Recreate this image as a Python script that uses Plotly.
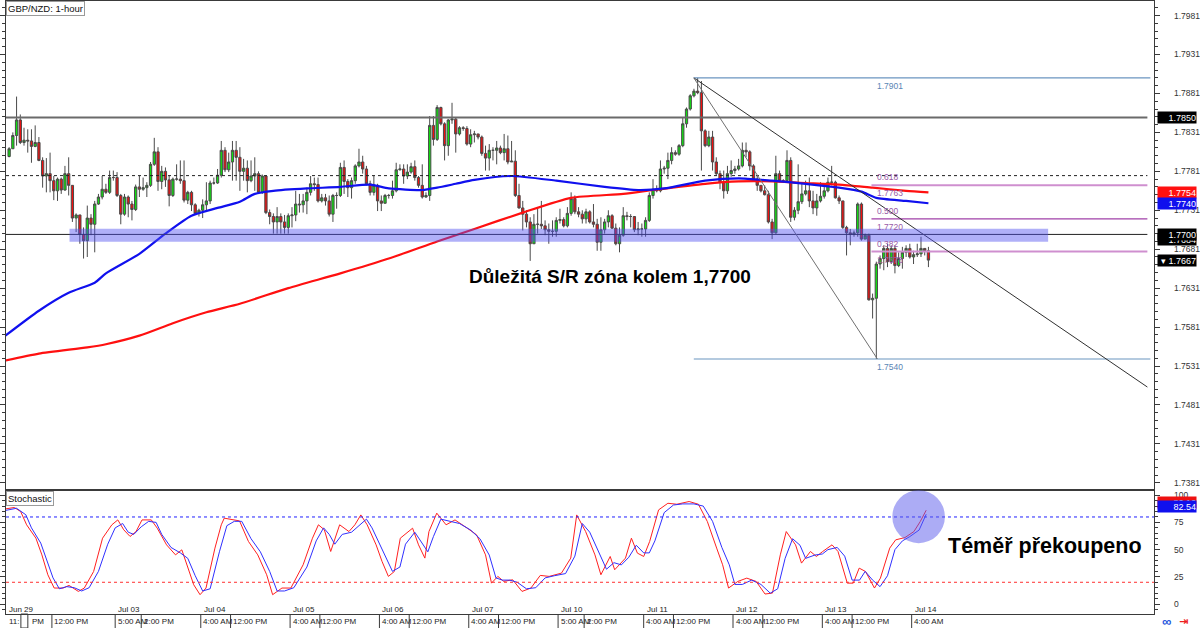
import plotly.graph_objects as go

# ---------------- DATA ----------------
first_open = 1.7800
close = [1.7810,1.7827,1.7847,1.7818,1.7821,1.7820,1.7813,1.7818,1.7795,1.7775,
         1.7778,1.7769,1.7756,1.7771,1.7757,1.7778,1.7763,1.7721,1.7725,1.7700,
         1.7692,1.7721,1.7713,1.7739,1.7748,1.7758,1.7754,1.7773,1.7773,1.7750,
         1.7726,1.7748,1.7739,1.7732,1.7761,1.7758,1.7760,1.7763,1.7790,1.7806,
         1.7768,1.7781,1.7770,1.7750,1.7771,1.7771,1.7769,1.7744,1.7754,1.7738,
         1.7727,1.7731,1.7738,1.7743,1.7766,1.7766,1.7776,1.7808,1.7783,1.7793,
         1.7808,1.7799,1.7781,1.7785,1.7769,1.7775,1.7778,1.7754,1.7775,1.7728,
         1.7723,1.7716,1.7723,1.7716,1.7709,1.7724,1.7725,1.7739,1.7738,1.7743,
         1.7754,1.7765,1.7764,1.7743,1.7747,1.7743,1.7726,1.7750,1.7750,1.7786,
         1.7768,1.7760,1.7769,1.7788,1.7793,1.7784,1.7765,1.7754,1.7763,1.7743,
         1.7740,1.7750,1.7750,1.7756,1.7783,1.7784,1.7775,1.7780,1.7787,1.7773,
         1.7763,1.7748,1.7750,1.7840,1.7822,1.7863,1.7842,1.7814,1.7847,1.7848,
         1.7829,1.7837,1.7836,1.7816,1.7828,1.7829,1.7825,1.7804,1.7798,1.7808,
         1.7808,1.7811,1.7805,1.7810,1.7793,1.7794,1.7750,1.7734,1.7726,1.7716,
         1.7688,1.7713,1.7713,1.7711,1.7706,1.7704,1.7704,1.7718,1.7719,1.7711,
         1.7727,1.7746,1.7729,1.7726,1.7720,1.7729,1.7716,1.7713,1.7690,1.7706,
         1.7716,1.7724,1.7708,1.7688,1.7699,1.7724,1.7723,1.7723,1.7706,1.7707,
         1.7707,1.7718,1.7750,1.7758,1.7756,1.7784,1.7785,1.7795,1.7805,1.7803,
         1.7814,1.7842,1.7861,1.7878,1.7884,1.7882,1.7833,1.7814,1.7825,1.7793,
         1.7778,1.7767,1.7756,1.7778,1.7782,1.7784,1.7788,1.7808,1.7806,1.7788,
         1.7771,1.7763,1.7756,1.7751,1.7716,1.7702,1.7778,1.7769,1.7769,1.7795,
         1.7722,1.7731,1.7742,1.7752,1.7756,1.7743,1.7734,1.7743,1.7749,1.7756,
         1.7767,1.7767,1.7747,1.7743,1.7709,1.7702,1.7700,1.7702,1.7739,1.7694,
         1.7699,1.7616,1.7618,1.7662,1.7669,1.7682,1.7665,1.7682,1.7660,1.7669,
         1.7677,1.7682,1.7671,1.7674,1.7675,1.7682,1.7679,1.7667]
high = [1.7812,1.7831,1.7877,1.7854,1.7837,1.7835,1.7835,1.7840,1.7825,1.7799,
        1.7798,1.7805,1.7775,1.7773,1.7773,1.7788,1.7799,1.7763,1.7727,1.7725,
        1.7709,1.7737,1.7726,1.7743,1.7752,1.7775,1.7765,1.7782,1.7782,1.7780,
        1.7752,1.7752,1.7750,1.7743,1.7764,1.7775,1.7773,1.7767,1.7793,1.7824,
        1.7812,1.7788,1.7786,1.7775,1.7773,1.7790,1.7795,1.7795,1.7756,1.7756,
        1.7740,1.7733,1.7745,1.7767,1.7769,1.7773,1.7784,1.7820,1.7812,1.7805,
        1.7820,1.7820,1.7812,1.7797,1.7795,1.7795,1.7799,1.7781,1.7777,1.7775,
        1.7732,1.7727,1.7735,1.7727,1.7725,1.7727,1.7735,1.7756,1.7752,1.7752,
        1.7760,1.7775,1.7773,1.7773,1.7752,1.7752,1.7750,1.7752,1.7754,1.7792,
        1.7795,1.7771,1.7773,1.7790,1.7810,1.7801,1.7788,1.7769,1.7775,1.7765,
        1.7750,1.7752,1.7752,1.7769,1.7792,1.7790,1.7790,1.7790,1.7792,1.7795,
        1.7775,1.7790,1.7754,1.7852,1.7852,1.7866,1.7864,1.7844,1.7848,1.7869,
        1.7850,1.7839,1.7839,1.7839,1.7835,1.7833,1.7829,1.7827,1.7814,1.7816,
        1.7812,1.7820,1.7814,1.7829,1.7827,1.7820,1.7808,1.7765,1.7743,1.7731,
        1.7722,1.7726,1.7735,1.7743,1.7718,1.7714,1.7718,1.7722,1.7733,1.7722,
        1.7735,1.7754,1.7750,1.7735,1.7731,1.7733,1.7731,1.7739,1.7720,1.7722,
        1.7720,1.7731,1.7726,1.7714,1.7709,1.7735,1.7729,1.7726,1.7722,1.7716,
        1.7714,1.7722,1.7754,1.7771,1.7763,1.7795,1.7788,1.7805,1.7812,1.7808,
        1.7816,1.7850,1.7863,1.7880,1.7887,1.7901,1.7897,1.7835,1.7833,1.7833,
        1.7799,1.7782,1.7782,1.7788,1.7795,1.7788,1.7797,1.7818,1.7818,1.7808,
        1.7790,1.7775,1.7763,1.7763,1.7756,1.7720,1.7801,1.7782,1.7771,1.7808,
        1.7799,1.7735,1.7790,1.7767,1.7769,1.7773,1.7756,1.7752,1.7767,1.7765,
        1.7773,1.7788,1.7769,1.7750,1.7743,1.7711,1.7707,1.7705,1.7741,1.7741,
        1.7701,1.7701,1.7624,1.7665,1.7673,1.7686,1.7688,1.7686,1.7686,1.7677,
        1.7684,1.7686,1.7688,1.7679,1.7688,1.7697,1.7682,1.7684]
low = [1.7799,1.7810,1.7814,1.7816,1.7814,1.7805,1.7792,1.7812,1.7794,1.7760,
       1.7754,1.7754,1.7744,1.7743,1.7752,1.7756,1.7750,1.7716,1.7703,1.7688,
       1.7669,1.7671,1.7699,1.7677,1.7738,1.7745,1.7752,1.7752,1.7769,1.7748,
       1.7713,1.7724,1.7722,1.7718,1.7730,1.7748,1.7756,1.7748,1.7761,1.7788,
       1.7756,1.7758,1.7761,1.7736,1.7748,1.7769,1.7765,1.7741,1.7739,1.7730,
       1.7725,1.7723,1.7721,1.7730,1.7739,1.7764,1.7765,1.7773,1.7780,1.7780,
       1.7769,1.7769,1.7756,1.7769,1.7754,1.7767,1.7756,1.7752,1.7752,1.7726,
       1.7713,1.7701,1.7701,1.7701,1.7701,1.7701,1.7709,1.7717,1.7728,1.7728,
       1.7726,1.7750,1.7756,1.7741,1.7741,1.7737,1.7723,1.7716,1.7733,1.7748,
       1.7752,1.7748,1.7746,1.7765,1.7786,1.7778,1.7763,1.7750,1.7750,1.7730,
       1.7730,1.7741,1.7746,1.7746,1.7754,1.7782,1.7765,1.7771,1.7778,1.7769,
       1.7760,1.7746,1.7747,1.7743,1.7814,1.7820,1.7840,1.7795,1.7801,1.7842,
       1.7805,1.7827,1.7833,1.7814,1.7812,1.7818,1.7822,1.7801,1.7782,1.7782,
       1.7795,1.7790,1.7803,1.7795,1.7790,1.7793,1.7748,1.7733,1.7705,1.7709,
       1.7666,1.7688,1.7701,1.7707,1.7699,1.7688,1.7697,1.7697,1.7714,1.7709,
       1.7709,1.7724,1.7726,1.7722,1.7714,1.7714,1.7714,1.7709,1.7679,1.7679,
       1.7701,1.7709,1.7707,1.7686,1.7677,1.7697,1.7718,1.7709,1.7703,1.7699,
       1.7697,1.7697,1.7716,1.7746,1.7754,1.7754,1.7778,1.7771,1.7790,1.7801,
       1.7801,1.7812,1.7837,1.7859,1.7876,1.7880,1.7782,1.7812,1.7812,1.7782,
       1.7776,1.7758,1.7746,1.7752,1.7774,1.7778,1.7782,1.7786,1.7799,1.7782,
       1.7769,1.7756,1.7754,1.7750,1.7714,1.7694,1.7701,1.7767,1.7767,1.7767,
       1.7716,1.7718,1.7726,1.7739,1.7750,1.7735,1.7726,1.7724,1.7741,1.7746,
       1.7754,1.7763,1.7746,1.7739,1.7707,1.7673,1.7686,1.7697,1.7697,1.7692,
       1.7694,1.7615,1.7592,1.7540,1.7656,1.7654,1.7658,1.7662,1.7650,1.7658,
       1.7656,1.7671,1.7669,1.7662,1.7671,1.7671,1.7673,1.7658]
bars = list(range(1, len(close) + 1))
opens = [first_open] + close[:-1]

ma100_bar = [0, 9, 17, 24, 27, 36, 43, 50, 57, 63, 67, 72, 81, 90, 98, 103, 112, 116, 121,
             126, 136, 148, 161, 170, 177, 188, 197, 206, 215, 224, 230, 234, 242, 248]
ma100_val = [1.7570, 1.7602, 1.7625, 1.7638, 1.7650, 1.7675, 1.7701, 1.7724, 1.7734, 1.7742,
             1.7752, 1.7756, 1.7759, 1.7761, 1.7764, 1.7759, 1.7757, 1.7760, 1.7765,
             1.7770, 1.7775, 1.7769, 1.7761, 1.7757, 1.7759, 1.7769, 1.7772, 1.7769, 1.7765,
             1.7760, 1.7755, 1.7747, 1.7743, 1.7740]
ma200_bar = [0, 9, 22, 27, 36, 45, 54, 63, 76, 90, 103, 116, 126, 139, 152, 166, 174, 188,
             197, 206, 215, 224, 233, 242, 248]
ma200_val = [1.7538, 1.7547, 1.7555, 1.7559, 1.7570, 1.7586, 1.7600, 1.7611, 1.7631, 1.7650,
             1.7669, 1.7691, 1.7707, 1.7728, 1.7747, 1.7752, 1.7757, 1.7765, 1.7768, 1.7768,
             1.7766, 1.7764, 1.7760, 1.7756, 1.7754]

stoch_k_bar = [0, 2.4, 4.1, 5.7, 8.2, 9.8, 11.4, 13.1, 15.5, 17.1, 19.6, 21.2, 23.7, 26.1, 28.6,
               30.2, 31.8, 33.5, 35.1, 36.7, 39.2, 40.8, 43.3, 45.7, 47.4, 49.0, 50.6, 52.3,
               53.9, 56.3, 58.0, 58.8, 61.2, 62.9, 65.3, 67.8, 70.2, 71.8, 74.3, 76.7, 80.0,
               82.5, 84.1, 85.7, 87.4, 89.8, 92.3, 93.9, 95.5, 97.2, 99.6, 101.2, 102.9, 104.5,
               106.1, 109.4, 111.0, 112.7, 113.8, 115.9, 118.4, 120.8, 124.1, 126.6, 129.0,
               130.6, 132.3, 133.9, 136.3, 138.8, 141.2, 143.7, 146.1, 149.4, 151.9, 153.5,
               155.9, 158.4, 160.0, 162.5, 163.7, 166.6, 168.2, 169.8, 171.5, 173.1, 175.5,
               178.0, 180.4, 183.7, 186.2, 188.6, 191.1, 192.7, 194.3, 196.8, 199.2, 201.7,
               204.1, 206.1, 208.2, 209.8, 212.3, 213.9, 216.3, 217.9, 219.6, 222.1, 223.7,
               226.2, 227.8, 229.4, 231.1, 233.5, 235.1, 237.6, 239.2, 241.7, 244.1, 245.8, 247.4]
stoch_k_val = [87.4, 88.7, 85.0, 72.8, 60.5, 45.2, 26.9, 14.7, 14.7, 17.1, 11.6, 14.7, 29.9, 60.5,
               72.8, 77.3, 68.2, 62.1, 66.6, 77.3, 77.3, 69.7, 54.4, 45.2, 49.8, 33.0, 17.7, 8.6,
               14.7, 51.4, 72.8, 78.9, 77.3, 76.4, 57.5, 45.2, 26.9, 8.6, 14.7, 14.7, 36.1,
               60.5, 72.8, 68.2, 48.3, 72.8, 66.6, 72.8, 81.9, 72.8, 54.4, 39.1, 25.4, 29.9,
               60.5, 69.7, 54.4, 42.2, 66.6, 83.5, 72.8, 77.3, 69.7, 63.6, 45.2,
               19.2, 25.4, 20.8, 22.3, 11.6, 14.7, 26.3, 25.4, 28.4, 42.2, 81.9,
               66.6, 45.2, 26.9, 43.7, 31.5, 42.2, 60.5, 46.8, 43.7, 57.5, 86.5,
               92.6, 91.7, 94.2, 91.7, 75.8, 51.4, 36.1, 14.7, 20.8, 23.8, 20.8,
               9.2, 10.1, 45.2, 66.6, 54.4, 37.6, 48.3, 43.7, 48.3, 54.4, 48.3,
               19.2, 19.2, 33.0, 29.9, 14.7, 23.8, 51.4, 59.0, 61.1, 66.6, 75.8, 86.2]
stoch_d_bar = [0, 3, 5.5, 7, 9.5, 11, 12.8, 14.5, 16.5, 18.5, 20.5, 22.5, 25, 27.5, 29.5, 31.5,
               33, 34.5, 36.5, 38.5, 40.5, 42, 44.5, 47, 49, 51, 53, 55, 57.5, 59.5, 61.5, 63.5,
               66, 68.5, 71, 73, 75, 77.5, 81, 83.5, 85.5, 87, 88.5, 90.5, 93, 95, 97, 98.5,
               100.5, 102.5, 104, 106, 107.5, 110, 112, 113.5, 115, 117, 119.5, 122, 125,
               127.5, 130, 131.8, 133.5, 135.5, 137.5, 140, 142.5, 145, 147.5, 150.5, 153,
               155, 157, 159.5, 161.5, 163.5, 165.5, 167.5, 169.5, 171.5, 173, 174.5, 177,
               179.5, 182, 185, 187.5, 190, 192.5, 194.5, 196, 198, 200.5, 203, 205.5, 207.5,
               209.5, 211.5, 213.5, 215, 217.5, 219.5, 221, 223.5, 225.5, 227.5, 229.5, 231,
               233, 235, 237, 239, 241, 243, 245.5, 247.4]
stoch_d_val = [86, 88, 82, 70, 56, 42, 24, 14, 16, 15, 12, 15, 30, 55, 70, 74,
               66, 64, 71, 76, 75, 64, 52, 47, 42, 26, 12, 14, 48, 72, 76, 76,
               60, 48, 30, 12, 12, 15, 34, 58, 70, 64, 55, 64, 66, 72, 78, 70,
               55, 40, 30, 34, 55, 66, 56, 48, 62, 78, 76, 74, 68,
               60, 45, 24, 22, 22, 20, 14, 15, 24, 26, 28, 44,
               74, 66, 48, 32, 38, 36, 43, 54, 47, 47, 58, 84,
               91, 92, 92, 90, 76, 52, 36, 18, 18, 22, 18, 10, 14,
               42, 60, 54, 42, 45, 46, 50, 52, 44, 22, 22, 30,
               22, 16, 26, 50, 58, 62, 68, 82.5]

price_tick_labels = ["1.7981", "1.7931", "1.7881", "1.7831", "1.7781", "1.7731", "1.7681",
                     "1.7631", "1.7581", "1.7531", "1.7481", "1.7431", "1.7381"]
stoch_tick_labels = ["100", "75", "50", "25", "0"]
date_bars = [0, 30, 53, 77, 101, 125, 149, 172, 196, 220, 244]
date_labels = ["Jun 29", "Jul 03", "Jul 04", "Jul 05", "Jul 06", "Jul 07", "Jul 10",
               "Jul 11", "Jul 12", "Jul 13", "Jul 14"]
time_bars = [13, 30, 37, 53, 61, 77, 85, 101, 109, 125, 133, 149, 156, 172, 180, 196,
             204, 220, 228, 244]
time_labels = ["12:00 PM", "5:00 AM", "2:00 PM", "4:00 AM", "12:00 PM", "4:00 AM", "12:00 PM",
               "4:00 AM", "12:00 PM", "4:00 AM", "12:00 PM", "5:00 AM", "2:00 PM", "4:00 AM",
               "12:00 PM", "4:00 AM", "12:00 PM", "4:00 AM", "12:00 PM", "4:00 AM"]

level_850 = 1.7850
level_sr = 1.7700
level_dotted = 1.77755
zone_low, zone_high = 1.76907, 1.77074
swing_high, swing_low = 1.7901, 1.7540
fib_levels = [1.7763, 1.7720, 1.7678]
fib_ratio_labels = ["0.618", "0.500", "0.382"]
fib_price_labels = ["1.7763", "1.7720", "1.7678"]
trend_end_price = 1.7504
stoch_levels = [80, 20]

last_price = 1.7667
hidden_price = 1.7684
ma200_last, ma100_last = 1.7754, 1.7740
stoch_k_last, stoch_d_last = 86.16, 82.54

# ---------------- GEOMETRY ----------------
W, H = 1200, 628
PLOT_R = 1157
MAIN_BOTTOM, STOCH_BOTTOM = 490, 614
PXB = 3.75  # pixels per bar
PX_PER_PRICE = 7800
PX_PER_STOCH = 1.09


def bar_of_px(px):
    return (px + 0.6) / PXB


def px_of_bar_left(b):
    return PXB * b - 2.5


def xp(px):
    return px / W


def yp(py):
    return (H - py) / H


FONT_AX = "Liberation Sans, Arial, sans-serif"
FONT_TXT = "Liberation Sans, Arial, sans-serif"
AX_SIZE = 8.5

fig = go.Figure()

fig.add_trace(go.Candlestick(
    x=bars, open=opens, high=high, low=low, close=close,
    increasing=dict(fillcolor="#10e010", line=dict(color="#4a4a4a", width=1)),
    decreasing=dict(fillcolor="#ee1010", line=dict(color="#4a4a4a", width=1)),
    whiskerwidth=0, hoverinfo="skip", xaxis="x", yaxis="y", showlegend=False))

fig.add_trace(go.Scatter(x=ma200_bar, y=ma200_val, mode="lines",
                         line=dict(color="#ff1010", width=2.2, shape="spline", smoothing=0.6),
                         xaxis="x", yaxis="y", hoverinfo="skip", showlegend=False))
fig.add_trace(go.Scatter(x=ma100_bar, y=ma100_val, mode="lines",
                         line=dict(color="#1010ee", width=2.2, shape="spline", smoothing=0.6),
                         xaxis="x", yaxis="y", hoverinfo="skip", showlegend=False))

fig.add_trace(go.Scatter(x=stoch_k_bar, y=stoch_k_val, mode="lines",
                         line=dict(color="#ff2020", width=1), xaxis="x2", yaxis="y2",
                         hoverinfo="skip", showlegend=False))
fig.add_trace(go.Scatter(x=stoch_d_bar, y=stoch_d_val, mode="lines",
                         line=dict(color="#3030ff", width=1), xaxis="x2", yaxis="y2",
                         hoverinfo="skip", showlegend=False))

x_lo, x_hi = bar_of_px(0), bar_of_px(PLOT_R)
y_lo = swing_high - (MAIN_BOTTOM - 77) / PX_PER_PRICE
y_hi = swing_high + 77 / PX_PER_PRICE
s_hi = (604 - 490) / PX_PER_STOCH
s_lo = (604 - STOCH_BOTTOM) / PX_PER_STOCH

ax_common = dict(showgrid=False, zeroline=False, linecolor="#3a3a3a", linewidth=1)

fig.update_layout(
    width=W, height=H, margin=dict(l=0, r=0, t=0, b=0),
    paper_bgcolor="white", plot_bgcolor="white", boxgap=0.12,
    xaxis=dict(domain=[0, PLOT_R / W], range=[x_lo, x_hi], anchor="y", showticklabels=False,
               ticks="", showline=True, mirror=True, rangeslider=dict(visible=False), **ax_common),
    yaxis=dict(domain=[yp(MAIN_BOTTOM), 1], range=[y_lo, y_hi], anchor="x", side="right",
               tickmode="array", tickvals=[float(t) for t in price_tick_labels],
               ticktext=price_tick_labels, ticks="outside", ticklen=5, tickcolor="#3a3a3a",
               showline=True, mirror="ticks", ticklabelstandoff=12,
               minor=dict(dtick=0.001, tick0=1.7381, ticks="outside", ticklen=3,
                          tickcolor="#3a3a3a"),
               tickfont=dict(family=FONT_AX, size=AX_SIZE, color="#333"), **ax_common),
    xaxis2=dict(domain=[0, PLOT_R / W], range=[x_lo, x_hi], anchor="y2", showticklabels=False,
                ticks="", showline=True, mirror=True, **ax_common),
    yaxis2=dict(domain=[yp(STOCH_BOTTOM), yp(MAIN_BOTTOM)], range=[s_lo, s_hi], anchor="x2",
                side="right", tickmode="array",
                tickvals=[float(t) for t in stoch_tick_labels], ticktext=stoch_tick_labels,
                ticks="outside", ticklen=5, tickcolor="#3a3a3a", showline=True,
                mirror="ticks", ticklabelstandoff=12,
                minor=dict(dtick=5, tick0=0, ticks="outside", ticklen=3, tickcolor="#3a3a3a"),
                tickfont=dict(family=FONT_AX, size=AX_SIZE, color="#333"), **ax_common),
)

shapes = []
full_x0, full_x1 = bar_of_px(0), bar_of_px(1150)
shapes.append(dict(type="line", xref="x", yref="y", x0=full_x0, x1=full_x1,
                   y0=level_850, y1=level_850, line=dict(color="#6a6a6a", width=2)))
shapes.append(dict(type="line", xref="x", yref="y", x0=full_x0, x1=full_x1,
                   y0=level_sr, y1=level_sr, line=dict(color="#202020", width=1)))
shapes.append(dict(type="line", xref="x", yref="y", x0=full_x0, x1=full_x1,
                   y0=level_dotted, y1=level_dotted,
                   line=dict(color="#202020", width=1, dash="dot")))
sw_x0, sw_x1 = bar_of_px(693), bar_of_px(1153)
for lv in (swing_high, swing_low):
    shapes.append(dict(type="line", xref="x", yref="y", x0=sw_x0, x1=sw_x1, y0=lv, y1=lv,
                       line=dict(color="#6b95c0", width=1.2)))
fib_x0, fib_x1 = bar_of_px(872), bar_of_px(1150)
fib_styles = [("#cf8fcf", 2), ("#a040a8", 1.3), ("#cf8fcf", 2)]
for lv, (col, wd) in zip(fib_levels, fib_styles):
    shapes.append(dict(type="line", xref="x", yref="y", x0=fib_x0, x1=fib_x1, y0=lv, y1=lv,
                       line=dict(color=col, width=wd)))
shapes.append(dict(type="line", xref="x", yref="y", x0=bar_of_px(693), y0=swing_high,
                   x1=bar_of_px(1150), y1=trend_end_price,
                   line=dict(color="#303030", width=1)))
shapes.append(dict(type="line", xref="x", yref="y", x0=bar_of_px(693), y0=swing_high,
                   x1=bar_of_px(878), y1=swing_low, line=dict(color="#707070", width=1)))
shapes.append(dict(type="rect", xref="x", yref="y", x0=bar_of_px(64), x1=bar_of_px(1050),
                   y0=zone_low, y1=zone_high, fillcolor="rgba(80,80,240,0.45)",
                   line=dict(width=0), layer="above"))
for lv, col in zip(stoch_levels, ["#2020ff", "#ff3030"]):
    shapes.append(dict(type="line", xref="x2", yref="y2", x0=x_lo, x1=x_hi, y0=lv, y1=lv,
                       line=dict(color=col, width=1, dash="dot")))
shapes.append(dict(type="circle", xref="paper", yref="paper", x0=xp(893), x1=xp(946),
                   y0=yp(543), y1=yp(490), fillcolor="rgba(90,90,235,0.5)",
                   line=dict(width=0), layer="above"))
for b in time_bars:
    px = px_of_bar_left(b)
    shapes.append(dict(type="line", xref="paper", yref="paper", x0=xp(px), x1=xp(px),
                       y0=0, y1=yp(STOCH_BOTTOM), line=dict(color="#3a3a3a", width=1)))
shapes.append(dict(type="rect", xref="paper", yref="paper", x0=xp(15), x1=xp(22),
                   y0=0, y1=yp(STOCH_BOTTOM), line=dict(color="#3a3a3a", width=1)))
fig.update_layout(shapes=shapes)

ann = []
ann.append(dict(text="GBP/NZD: 1-hour", xref="paper", yref="paper", x=0, y=1,
                xanchor="left", yanchor="top", showarrow=False, bgcolor="white",
                bordercolor="#9a9a9a", borderwidth=1, borderpad=1,
                font=dict(family=FONT_AX, size=9.5, color="#111")))
ann.append(dict(text="Stochastic", xref="paper", yref="paper", x=0, y=yp(MAIN_BOTTOM + 1),
                xanchor="left", yanchor="top", showarrow=False, bgcolor="white",
                bordercolor="#9a9a9a", borderwidth=1, borderpad=1,
                font=dict(family=FONT_AX, size=9.5, color="#111")))
ann.append(dict(text="<b>Důležitá S/R zóna kolem 1,7700</b>", xref="paper", yref="paper",
                x=xp(609), y=yp(276), xanchor="center", yanchor="middle", showarrow=False,
                font=dict(family=FONT_TXT, size=19, color="#000")))
ann.append(dict(text="<b>Téměř překoupeno</b>", xref="paper", yref="paper",
                x=xp(1047), y=yp(546), xanchor="center", yanchor="middle", showarrow=False,
                font=dict(family=FONT_TXT, size=21.5, color="#000")))
lab_x = bar_of_px(876)
ann.append(dict(text=f"{swing_high:.4f}", xref="x", yref="y", x=lab_x, y=swing_high,
                xanchor="left", yanchor="top", yshift=-1, showarrow=False,
                font=dict(family=FONT_AX, size=8.5, color="#5a85b5")))
ann.append(dict(text=f"{swing_low:.4f}", xref="x", yref="y", x=lab_x, y=swing_low,
                xanchor="left", yanchor="top", yshift=-1, showarrow=False,
                font=dict(family=FONT_AX, size=8.5, color="#5a85b5")))
for lv, r, pl in zip(fib_levels, fib_ratio_labels, fib_price_labels):
    ann.append(dict(text=r, xref="x", yref="y", x=lab_x, y=lv, xanchor="left",
                    yanchor="bottom", yshift=1, showarrow=False,
                    font=dict(family=FONT_AX, size=8.5, color="#9a5aa8")))
    ann.append(dict(text=pl, xref="x", yref="y", x=lab_x, y=lv, xanchor="left",
                    yanchor="top", yshift=-1, showarrow=False,
                    font=dict(family=FONT_AX, size=8.5, color="#9a5aa8")))


def price_box(text, yval, yref, bg, fg="white", yshift=0):
    return dict(text=text, xref="paper", yref=yref, x=xp(1160), y=yval, xanchor="left",
                yanchor="middle", showarrow=False, bgcolor=bg, width=38, height=11,
                align="right", borderpad=0, yshift=yshift,
                font=dict(family=FONT_AX, size=9, color=fg))


ann.append(price_box("1.7850", level_850, "y", "#000"))
ann.append(price_box("1.7754", ma200_last, "y", "#ff1010"))
ann.append(price_box("1.7740", ma100_last, "y", "#1010ee"))
ann.append(price_box(f"{hidden_price:.4f}", level_sr, "y", "#000", yshift=-5))
ann.append(price_box("1.7700", level_sr, "y", "#000"))
ann.append(price_box(f"▾ {last_price:.4f}", last_price, "y", "#000"))
ann.append(price_box(f"{stoch_k_last:.2f}", stoch_k_last, "y2", "#ee1010", yshift=7.5))
ann.append(price_box(f"{stoch_d_last:.2f}", stoch_d_last, "y2", "#1010ee", yshift=8))

for b, t in zip(date_bars, date_labels):
    ann.append(dict(text=t, xref="paper", yref="paper", x=xp(max(px_of_bar_left(b), 0) + 1),
                    y=yp(609), xanchor="left", yanchor="middle", showarrow=False,
                    font=dict(family=FONT_AX, size=8, color="#222")))
for b, t in zip(time_bars, time_labels):
    ann.append(dict(text=t, xref="paper", yref="paper", x=xp(px_of_bar_left(b) + 0.5),
                    y=yp(621.5), xanchor="left", yanchor="middle", showarrow=False,
                    font=dict(family=FONT_AX, size=8, color="#222")))
ann.append(dict(text="11:", xref="paper", yref="paper", x=xp(1), y=yp(621.5),
                xanchor="left", yanchor="middle", showarrow=False,
                font=dict(family=FONT_AX, size=8, color="#222")))
ann.append(dict(text="PM", xref="paper", yref="paper", x=xp(24), y=yp(621.5),
                xanchor="left", yanchor="middle", showarrow=False,
                font=dict(family=FONT_AX, size=8, color="#222")))
ann.append(dict(text="<b>∞</b>", xref="paper", yref="paper", x=xp(1169), y=yp(621),
                xanchor="center", yanchor="middle", showarrow=False,
                font=dict(family=FONT_TXT, size=13, color="#2255dd")))
ann.append(dict(text="<b>⇥</b>", xref="paper", yref="paper", x=xp(1186), y=yp(621),
                xanchor="center", yanchor="middle", showarrow=False,
                font=dict(family="DejaVu Sans", size=11, color="#ee2020")))
fig.update_layout(annotations=ann)

fig.write_html("out.html", config={"displayModeBar": False},
               post_script="document.body.style.margin='0px';document.body.style.overflow='hidden';")
